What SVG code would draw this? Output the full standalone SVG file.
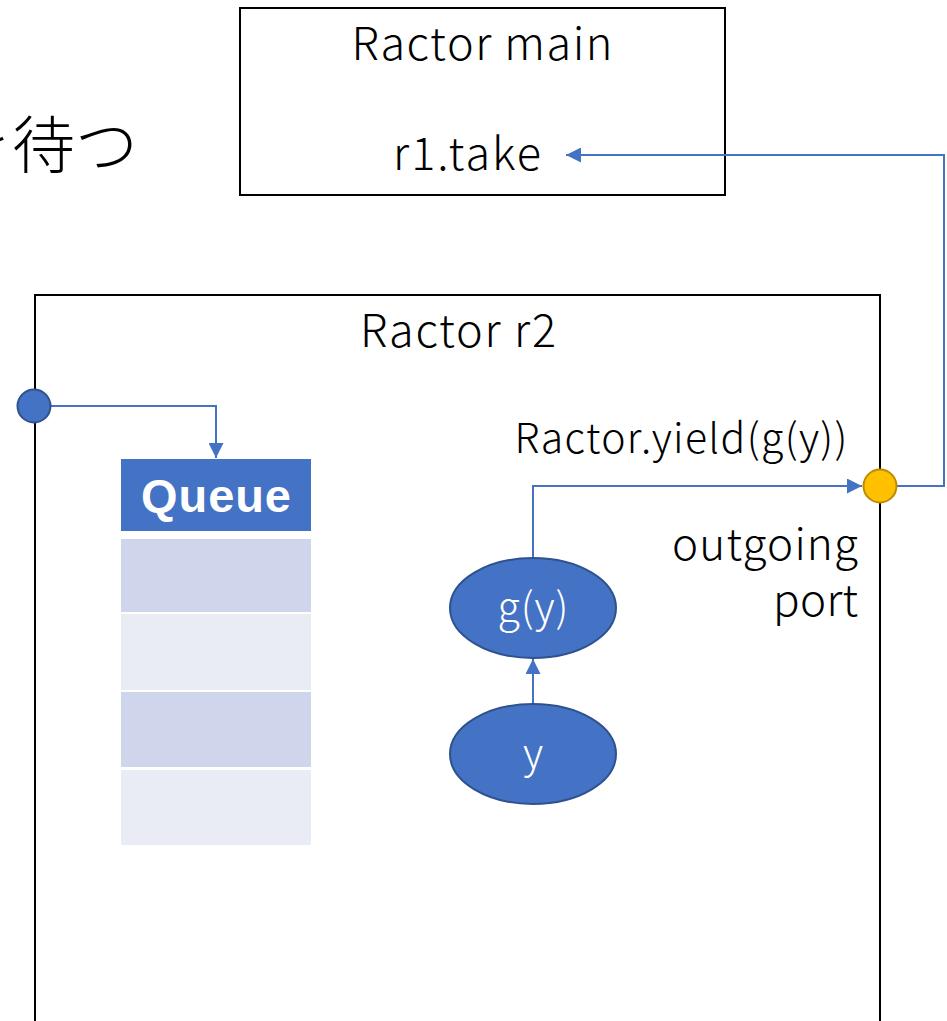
<svg xmlns="http://www.w3.org/2000/svg" width="947" height="1021" viewBox="0 0 947 1021">
<defs>
<style>
.t{font-family:"Noto Sans CJK JP","Noto Sans",sans-serif;fill:#000;font-weight:300}
.w{font-family:"Noto Sans CJK JP","Noto Sans",sans-serif;fill:#fff;font-weight:300}
.box{fill:#fff;stroke:#000;stroke-width:2}
.conn{fill:none;stroke:#4472C4;stroke-width:2}
.node{fill:#4472C4;stroke:#2F528F;stroke-width:2}
</style>
<marker id="ah2" viewBox="0 0 10 10" refX="10" refY="5" markerWidth="15" markerHeight="15" markerUnits="userSpaceOnUse" orient="auto">
<path d="M0,0 L10,5 L0,10 z" fill="#4472C4"/>
</marker>
</defs>
<rect width="947" height="1021" fill="#fff"/>
<text class="t" x="138" y="168" font-size="63" text-anchor="end">を待つ</text>
<g id="main">
<rect class="box" x="240" y="8" width="485" height="187"/>
<text class="t" x="482" y="60" font-size="45" text-anchor="middle" textLength="261" lengthAdjust="spacing">Ractor main</text>
<text class="t" x="467" y="170" font-size="45" text-anchor="middle" textLength="148" lengthAdjust="spacing">r1.take</text>
</g>
<g id="r2">
<rect class="box" x="35" y="295" width="845" height="760"/>
<text class="t" x="458" y="347" font-size="45" text-anchor="middle" textLength="196" lengthAdjust="spacing">Ractor r2</text>
<text class="t" x="681" y="453" font-size="41" text-anchor="middle" textLength="333" lengthAdjust="spacing">Ractor.yield(g(y))</text>
<text class="t" x="858" y="560" font-size="44" text-anchor="end" textLength="186" lengthAdjust="spacing">outgoing</text>
<text class="t" x="858" y="616" font-size="44" text-anchor="end" textLength="85" lengthAdjust="spacing">port</text>
</g>
<g id="queue">
<rect x="121" y="459" width="190" height="72" fill="#4472C4"/>
<text x="216" y="512" font-family="'Liberation Sans',Arial,sans-serif" fill="#fff" font-size="47" font-weight="bold" text-anchor="middle" textLength="150" lengthAdjust="spacing">Queue</text>
<rect x="121" y="539" width="190" height="73" fill="#CFD5EA"/>
<rect x="121" y="614" width="190" height="76" fill="#E9EBF5"/>
<rect x="121" y="692" width="190" height="75" fill="#CFD5EA"/>
<rect x="121" y="770" width="190" height="75" fill="#E9EBF5"/>
</g>
<g id="connectors">
<polyline class="conn" points="51,406 216,406 216,458" marker-end="url(#ah2)"/>
<polyline class="conn" points="533,703 533,659" marker-end="url(#ah2)"/>
<polyline class="conn" points="533,557 533,486 862,486" marker-end="url(#ah2)"/>
<polyline class="conn" points="897,486 944,486 944,155 566,155" marker-end="url(#ah2)"/>
</g>
<g id="inport">
<circle class="node" cx="34" cy="406" r="16.5"/>
</g>
<g id="outport">
<circle cx="880" cy="486" r="16.5" fill="#FFC000" stroke="#BC8C00" stroke-width="2"/>
</g>
<g id="gy">
<ellipse class="node" cx="533" cy="608" rx="83" ry="50"/>
<text class="w" x="533" y="622" font-size="41" text-anchor="middle" textLength="71" lengthAdjust="spacing">g(y)</text>
</g>
<g id="y">
<ellipse class="node" cx="533" cy="754" rx="83" ry="50"/>
<text class="w" x="533" y="768" font-size="41" text-anchor="middle">y</text>
</g>
</svg>
